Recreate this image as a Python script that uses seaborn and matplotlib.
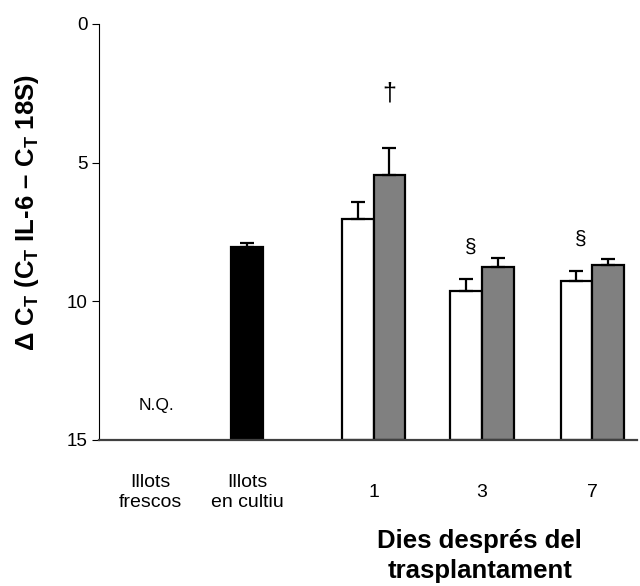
import numpy as np
import pandas as pd
import matplotlib
matplotlib.use("Agg")
import matplotlib.pyplot as plt
import seaborn as sns

# ---------------- data ----------------
categories = ["Illots\nfrescos", "Illots\nen cultiu", "1", "3", "7"]
cultured_value = [8.05]
cultured_err = [0.16]
days = ["1", "3", "7"]
white_values = [7.04, 9.62, 9.27]
white_err = [0.61, 0.42, 0.35]
gray_values = [5.45, 8.78, 8.68]
gray_err = [0.97, 0.35, 0.19]
y_ticks = [0, 5, 10, 15]
nq_text = "N.Q."
day_marks = ["†", "§", "§"]          # symbols above each day group
day_mark_series = ["gray", "white", "white"]
ylabel = r"Δ C$_\mathbf{T}$ (C$_\mathbf{T}$ IL-6 – C$_\mathbf{T}$ 18S)"
xlabel = "Dies després del\ntrasplantament"

# ---------------- layout ----------------
BASE = 15.0
CENTERS = [0.51, 1.48, 2.746, 3.83, 4.933]
BAR_W = 0.317
XLIM = (0, 5.38)

sns.set_theme(style="white")
plt.rcParams["font.family"] = ["Liberation Sans", "DejaVu Sans"]
plt.rcParams["mathtext.fontset"] = "custom"
plt.rcParams["mathtext.bf"] = "Liberation Sans:bold"
plt.rcParams["mathtext.rm"] = "Liberation Sans"
for k in ["text.color", "axes.labelcolor", "xtick.color", "ytick.color"]:
    plt.rcParams[k] = "black"

rows = []
rows.append(dict(pos=CENTERS[1], series="cultiu", value=cultured_value[0], err=cultured_err[0]))
for i, d in enumerate(days):
    c = CENTERS[2 + i]
    rows.append(dict(pos=c - BAR_W / 2, series="white", value=white_values[i], err=white_err[i]))
    rows.append(dict(pos=c + BAR_W / 2, series="gray", value=gray_values[i], err=gray_err[i]))
df = pd.DataFrame(rows)
df["height"] = df["value"] - BASE

fig = plt.figure(figsize=(6.4, 5.86), dpi=100)
ax = fig.add_axes([99 / 640, (586 - 440) / 586, (637 - 99) / 640, (440 - 24) / 586])

palette = {"cultiu": "black", "white": "white", "gray": "#808080"}
sns.barplot(data=df, x="pos", y="height", hue="series", palette=palette,
            native_scale=True, dodge=False, width=1, errorbar=None,
            edgecolor="black", linewidth=1.6, bottom=BASE, legend=False,
            saturation=1, ax=ax)

ax.errorbar(df["pos"], df["value"], yerr=[df["err"], np.zeros(len(df))],
            fmt="none", ecolor="black", elinewidth=1.6, capsize=5, capthick=1.6,
            zorder=3)

ax.set_xlim(*XLIM)
ax.set_ylim(BASE, 0)

# annotations
ax.text(CENTERS[0] + 0.07, 13.74, nq_text, ha="center", va="center", fontsize=12.5,
        color="black")
for i, (m, s) in enumerate(zip(day_marks, day_mark_series)):
    r = df[(df["series"] == s)].iloc[i]
    if m == "†":
        y = r["value"] - r["err"] - 1.96
        x = r["pos"]
        fs = 18
    else:
        y = r["value"] - r["err"] - 1.15
        x = r["pos"] + 0.04
        fs = 15
    ax.text(x, y, m, ha="center", va="center", fontsize=fs, color="black")

# axes styling
sns.despine(ax=ax, top=True, right=True)
ax.spines["left"].set_color("black")
ax.spines["left"].set_linewidth(0.8)
ax.spines["bottom"].set_color("#404040")
ax.spines["bottom"].set_linewidth(1.6)

ax.set_yticks(y_ticks)
ax.set_yticklabels([str(t) for t in y_ticks])
ax.tick_params(axis="y", left=True, direction="out", length=5, width=0.8,
               color="black", labelcolor="black", labelsize=13.5, pad=3)

ax.set_xticks(CENTERS)
ax.set_xticklabels(categories)
ax.tick_params(axis="x", bottom=False, length=0, labelsize=14, pad=38,
               labelcolor="black")
for lbl in ax.get_xticklabels():
    lbl.set_verticalalignment("center")

ax.set_ylabel(ylabel, fontsize=18.5, fontweight="bold", color="black")
ax.yaxis.set_label_coords(-0.108, 0.546)
ax.set_xlabel(xlabel, fontsize=18.5, fontweight="bold", linespacing=1.3,
              color="black")
ax.xaxis.set_label_coords(0.708, -0.215)

fig.savefig("out.png", dpi=100)
